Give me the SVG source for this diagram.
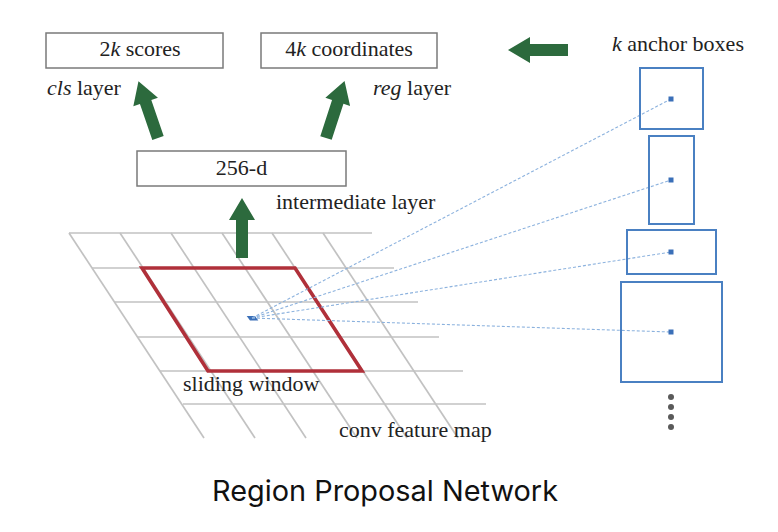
<svg xmlns="http://www.w3.org/2000/svg" width="778" height="532" viewBox="0 0 778 532">
<defs>
<style>
.t{font-family:"Liberation Serif","Times New Roman",serif;font-size:22px;fill:#222}
.i{font-style:italic}
.box{fill:#fff;stroke:#7a7a7a;stroke-width:1.5}
.grid{stroke:#c2c2c2;stroke-width:1.7;fill:none}
.anchor{fill:none;stroke:#4a80c2;stroke-width:2}
.dot{fill:#3a6fb8}
.dash{stroke:#8cb2de;stroke-width:1.1;stroke-dasharray:3 2;fill:none}
.arr{fill:#2c6a3d}
</style>
<polygon id="arrowShape" points="-6,0 -6,-38 -13,-38 0,-60 13,-38 6,-38 6,0"/>
</defs>
<rect width="778" height="532" fill="#fff"/>

<g id="feature-map">
<g class="grid">
<line x1="69" y1="233" x2="372" y2="233"/>
<line x1="92" y1="268" x2="394" y2="268"/>
<line x1="115" y1="302" x2="418" y2="302"/>
<line x1="137" y1="337" x2="439" y2="337"/>
<line x1="160" y1="371" x2="463" y2="371"/>
<line x1="183" y1="404" x2="486" y2="404"/>
<line x1="69" y1="233" x2="204" y2="438"/>
<line x1="120" y1="233" x2="255" y2="438"/>
<line x1="171" y1="233" x2="306" y2="438"/>
<line x1="222" y1="233" x2="357" y2="438"/>
<line x1="272" y1="233" x2="407" y2="438"/>
<line x1="323" y1="233" x2="458" y2="438"/>
</g>
<text class="t" x="339" y="437">conv feature map</text>
</g>

<g id="sliding-window">
<polygon points="142,268 295,268 362,371 208,371" fill="none" stroke="#b0303a" stroke-width="3.6" stroke-linejoin="miter"/>
<polygon points="246.7,316 255,316 258.3,320.5 250,320.5" fill="#3a6fb8"/>
<text class="t" x="183" y="391">sliding window</text>
</g>

<g id="connectors">
<line class="dash" x1="252" y1="318" x2="671" y2="99"/>
<line class="dash" x1="252" y1="318" x2="671" y2="180"/>
<line class="dash" x1="252" y1="318" x2="671" y2="252"/>
<line class="dash" x1="252" y1="318" x2="671" y2="332"/>
<use href="#arrowShape" class="arr" transform="translate(242,258)"/>
<use href="#arrowShape" class="arr" transform="translate(158,138) rotate(-19)"/>
<use href="#arrowShape" class="arr" transform="translate(326,138) rotate(18)"/>
<use href="#arrowShape" class="arr" transform="translate(568,50) rotate(-90)"/>
</g>

<g id="intermediate-layer">
<rect class="box" x="137" y="151" width="209" height="35"/>
<text class="t" x="241.5" y="175" text-anchor="middle">256-d</text>
<text class="t" x="276" y="209">intermediate layer</text>
</g>

<g id="cls-layer">
<rect class="box" x="46" y="33" width="177" height="35"/>
<text class="t" x="140" y="56" text-anchor="middle">2<tspan class="i">k</tspan> scores</text>
<text class="t" x="47" y="95"><tspan class="i">cls</tspan> layer</text>
</g>

<g id="reg-layer">
<rect class="box" x="261" y="33" width="176" height="35"/>
<text class="t" x="349" y="56" text-anchor="middle">4<tspan class="i">k</tspan> coordinates</text>
<text class="t" x="373" y="95"><tspan class="i">reg</tspan> layer</text>
</g>

<g id="anchor-boxes">
<text class="t" x="612" y="51"><tspan class="i">k</tspan> anchor boxes</text>
<rect class="anchor" x="640" y="68" width="63" height="61"/>
<rect class="anchor" x="649" y="136" width="45" height="88"/>
<rect class="anchor" x="627" y="230" width="89" height="44"/>
<rect class="anchor" x="621" y="282" width="101" height="100"/>
<rect class="dot" x="668.5" y="96.5" width="5" height="5"/>
<rect class="dot" x="668.5" y="177.5" width="5" height="5"/>
<rect class="dot" x="668.5" y="249.5" width="5" height="5"/>
<rect class="dot" x="668.5" y="329.5" width="5" height="5"/>
<g fill="#5a5a5a">
<circle cx="671" cy="397" r="3"/>
<circle cx="671" cy="407" r="3"/>
<circle cx="671" cy="417" r="3"/>
<circle cx="671" cy="427" r="3"/>
</g>
</g>

<g id="title">
<text x="385" y="501" text-anchor="middle" font-family="Inter, 'Open Sans', 'Liberation Sans', sans-serif" font-size="28" fill="#111" textLength="346" lengthAdjust="spacingAndGlyphs">Region Proposal Network</text>
</g>
</svg>
